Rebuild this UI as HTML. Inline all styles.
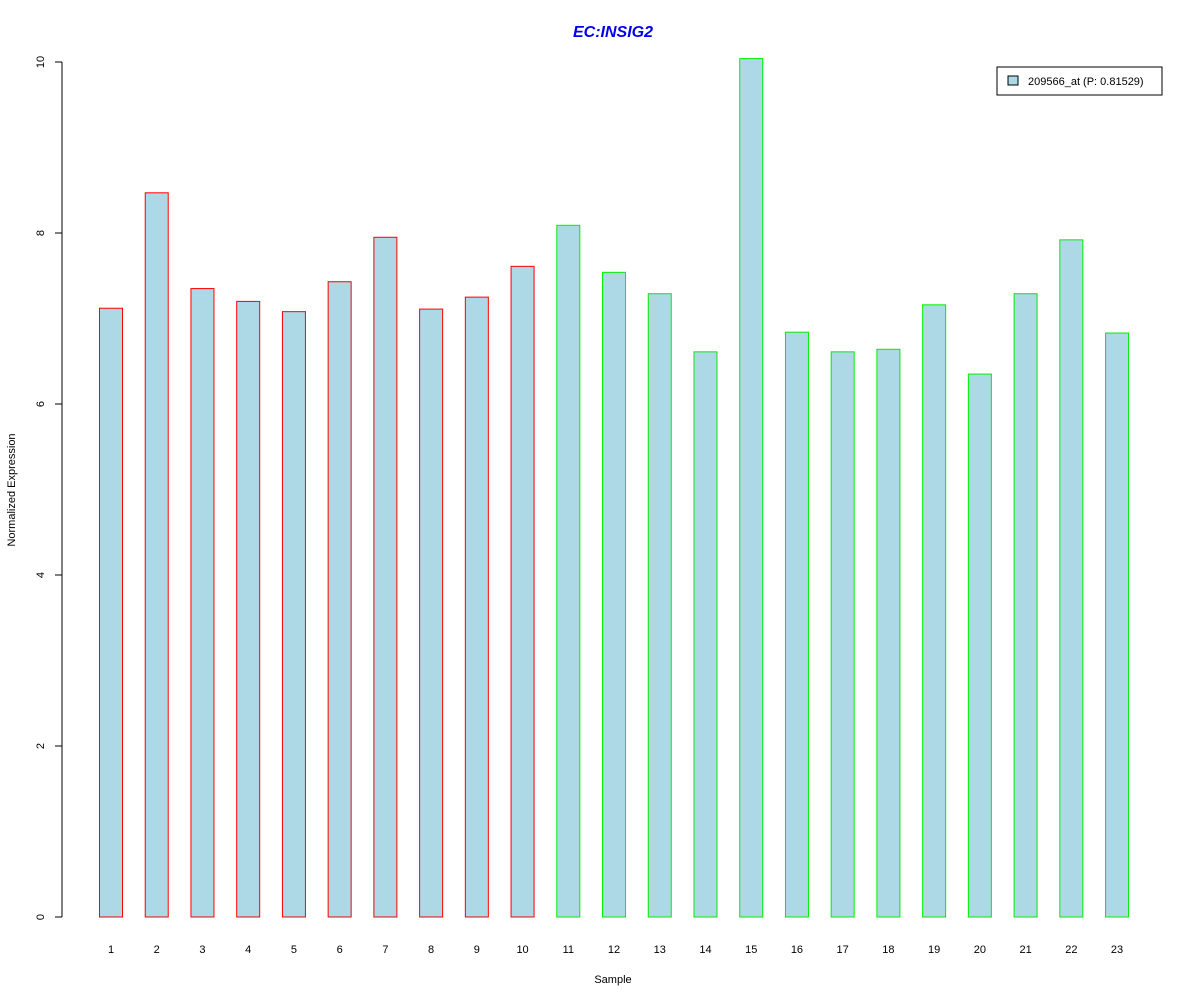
<!DOCTYPE html>
<html><head><meta charset="utf-8"><style>body{margin:0;background:#fff}svg{display:block;font-family:"Liberation Sans",Arial,sans-serif}</style></head>
<body>
<svg width="1200" height="1000" id="c">
<text x="613" y="37" text-anchor="middle" font-size="16" font-weight="bold" font-style="italic" fill="#0000ee">EC:INSIG2</text>
<text x="613" y="983" text-anchor="middle" font-size="11">Sample</text>
<text transform="translate(15,490) rotate(-90)" text-anchor="middle" font-size="11">Normalized Expression</text>
<g>
<rect x="997" y="67" width="165" height="28" fill="#fff" stroke="#000"/>
<rect x="1008" y="76" width="10" height="9" fill="#add8e6" stroke="#000"/>
<text x="1028" y="85" font-size="11">209566_at (P: 0.81529)</text>
</g>
<g id="g"></g>
</svg>
<script>
const categories=["1","2","3","4","5","6","7","8","9","10","11","12","13","14","15","16","17","18","19","20","21","22","23"];
const values=[7.12,8.47,7.35,7.20,7.08,7.43,7.95,7.11,7.25,7.61,8.09,7.54,7.29,6.61,10.04,6.84,6.61,6.64,7.16,6.35,7.29,7.92,6.83];
const groupColors=["#ff0000","#ff0000","#ff0000","#ff0000","#ff0000","#ff0000","#ff0000","#ff0000","#ff0000","#ff0000","#00ee00","#00ee00","#00ee00","#00ee00","#00ee00","#00ee00","#00ee00","#00ee00","#00ee00","#00ee00","#00ee00","#00ee00","#00ee00"];
const yTicks=[0,2,4,6,8,10];
const ns="http://www.w3.org/2000/svg",g=document.getElementById("g");
const y=v=>917-v*85.5, x=i=>111+i*45.73;
function mk(t,a){const e=document.createElementNS(ns,t);for(const k in a)e.setAttribute(k,a[k]);g.appendChild(e);return e;}
const ax=mk("line",{x1:62,x2:62,y1:y(0),y2:y(10),stroke:"#000"});


yTicks.forEach(t=>{
 const l=mk("line",{x1:55,x2:62,y1:y(t),y2:y(t),stroke:"#000"});
 
 
 const tx=mk("text",{transform:`translate(44,${y(t)}) rotate(-90)`,"text-anchor":"middle","font-size":11});
 tx.textContent=t;
 
 
});
values.forEach((v,i)=>{
 const r=mk("rect",{x:x(i)-11.5,y:y(v),width:23,height:y(0)-y(v),fill:"#add8e6",stroke:groupColors[i]});
 
 
 const t=mk("text",{x:x(i),y:953,"text-anchor":"middle","font-size":11});
 t.textContent=categories[i];
 
 
});
</script>
</body></html>
